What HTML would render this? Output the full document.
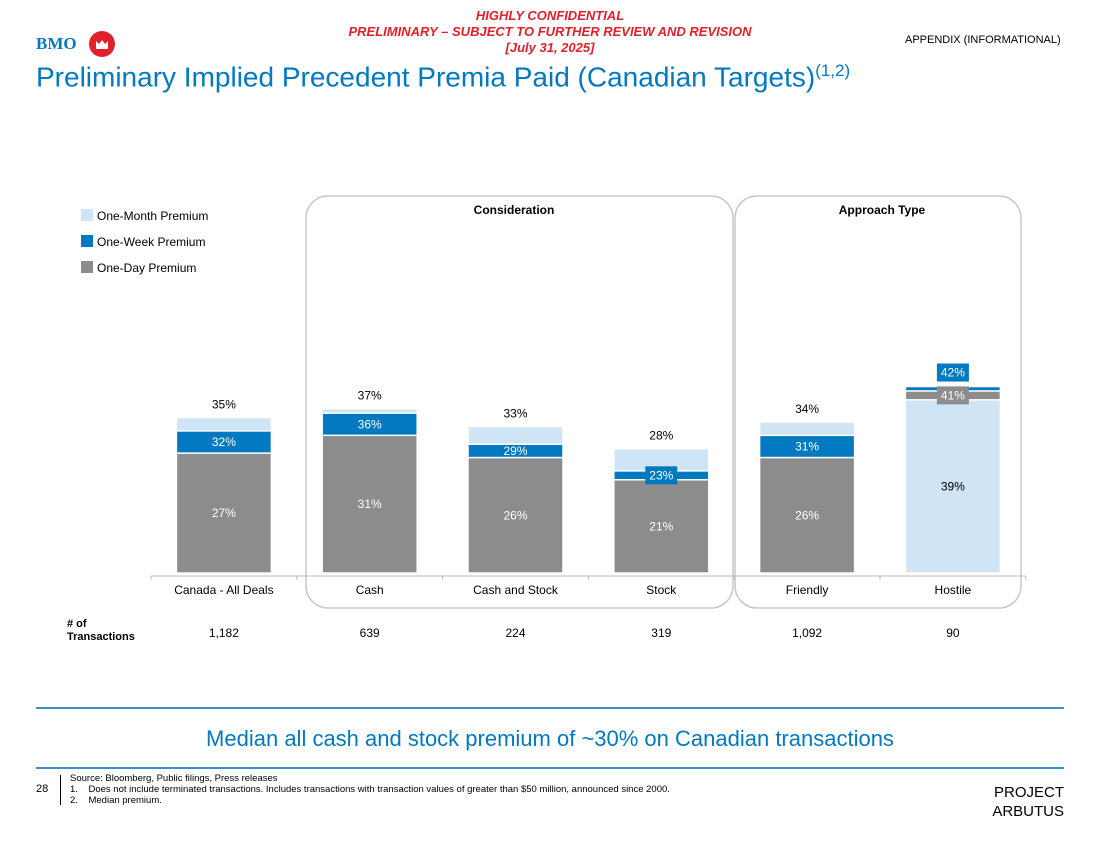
<!DOCTYPE html>
<html><head><meta charset="utf-8">
<style>
body{margin:0;width:1100px;height:849px;background:#fff;font-family:"Liberation Sans",Arial,sans-serif;position:relative;overflow:hidden}
.a{position:absolute;white-space:nowrap}
</style></head>
<body>
<div class="a" style="left:300px;top:8px;width:500px;text-align:center;color:#e0202a;font-weight:bold;font-style:italic;font-size:13px;line-height:16px">HIGHLY CONFIDENTIAL<br>PRELIMINARY – SUBJECT TO FURTHER REVIEW AND REVISION<br>[July 31, 2025]</div>
<div class="a" style="left:36px;top:34px;font-family:'Liberation Serif',serif;font-weight:bold;color:#0079c1;font-size:17px">BMO</div>
<svg class="a" style="left:89px;top:31px" width="26" height="26"><circle cx="13" cy="13" r="13" fill="#e0202a"/><path d="M7 18V10l3 3 3-4 3 4 3-3v8z" fill="#fff"/></svg>
<div class="a" style="left:905px;top:34px;font-size:11px;color:#000">APPENDIX (INFORMATIONAL)</div>
<div class="a" style="left:36px;top:61px;font-size:28px;color:#0079c1">Preliminary Implied Precedent Premia Paid (Canadian Targets)<sup style="font-size:17px">(1,2)</sup></div>

<svg class="a" style="left:0;top:0" width="1100" height="849" id="chart"></svg>

<div class="a" style="left:67px;top:618px;font-size:11px;font-weight:bold;line-height:13px"># of<br>Transactions</div>
<div class="a" style="left:36px;top:707px;width:1028px;height:1.5px;background:#3a8fc8"></div>
<div class="a" style="left:0;top:726px;width:1100px;text-align:center;font-size:22px;color:#0079c1">Median all cash and stock premium of ~30% on Canadian transactions</div>
<div class="a" style="left:36px;top:767px;width:1028px;height:1.5px;background:#3a8fc8"></div>
<div class="a" style="left:36px;top:783px;font-size:11px">28</div>
<div class="a" style="left:60px;top:775px;width:1px;height:30px;background:#000"></div>
<div class="a" style="left:70px;top:773px;font-size:9.5px;line-height:11px">Source: Bloomberg, Public filings, Press releases<br>1.&nbsp;&nbsp;&nbsp;&nbsp;Does not include terminated transactions. Includes transactions with transaction values of greater than $50 million, announced since 2000.<br>2.&nbsp;&nbsp;&nbsp;&nbsp;Median premium.</div>
<div class="a" style="left:964px;top:783px;width:100px;text-align:right;font-size:15px;line-height:19px">PROJECT<br>ARBUTUS</div>

<script>
const categories=["Canada - All Deals","Cash","Cash and Stock","Stock","Friendly","Hostile"];
const monthPremium=[35,37,33,28,34,39];
const weekPremium=[32,36,29,23,31,42];
const dayPremium=[27,31,26,21,26,41];
const transactions=["1,182","639","224","319","1,092","90"];
const seriesNames=["One-Month Premium","One-Week Premium","One-Day Premium"];

const NS="http://www.w3.org/2000/svg";
const svg=document.getElementById('chart');
const colors=["#cfe4f4","#0079c1","#8c8c8c"];
const base=573, pxPer=4.44, x0=151, step=145.8, bw=95;
const y=v=>base-v*pxPer;
const xc=i=>x0+step*(i+0.5);
function mk(t,a,txt){const e=document.createElementNS(NS,t);for(const k in a)e.setAttribute(k,a[k]);if(txt!=null)e.textContent=txt;svg.appendChild(e);return e;}

let g=mk('rect',{x:306,y:196,width:427,height:412,rx:22,fill:'none',stroke:'#c8c8c8','stroke-width':1.5});

g=mk('rect',{x:735,y:196,width:286,height:412,rx:22,fill:'none',stroke:'#c8c8c8','stroke-width':1.5});

g=mk('text',{x:514,y:214,'text-anchor':'middle','font-size':12,'font-weight':'bold'},'Consideration');

g=mk('text',{x:882,y:214,'text-anchor':'middle','font-size':12,'font-weight':'bold'},'Approach Type');


seriesNames.forEach((n,k)=>{
  let r=mk('rect',{x:81,y:209+k*26,width:12,height:12,fill:colors[k]});
  
  let t=mk('text',{x:97,y:220+k*26,'font-size':12},n);
  
});

let ax=mk('line',{x1:x0,y1:576,x2:x0+step*6,y2:576,stroke:'#bbb','stroke-width':1});

for(let i=0;i<=6;i++){let tk=mk('line',{x1:x0+step*i,y1:576,x2:x0+step*i,y2:580,stroke:'#bbb'});}

categories.forEach((c,i)=>{
  const cx=xc(i);
  const vals=[monthPremium[i],weekPremium[i],dayPremium[i]];
  const order=[0,1,2].sort((a,b)=>vals[b]-vals[a]);
  order.forEach(k=>{
    let r=mk('rect',{x:cx-bw/2,y:y(vals[k]),width:bw,height:vals[k]*pxPer,fill:colors[k],stroke:'#fff','stroke-width':1.5});
    
  });
  order.forEach((k,pos)=>{
    const v=vals[k], lbl=v+'%';
    let ty, boxed=false;
    if(pos===2){ty=(y(v)+base)/2+4;}
    else{
      const below=vals[order[pos+1]];
      const band=(v-below)*pxPer;
      if(pos===0){
        if(k===0){ty=y(v)-9;}
        else if(band<10){boxed=true;ty=y(v)-10;}
        else ty=(y(v)+y(below))/2+4;
      } else {
        ty=(y(v)+y(below))/2+4; if(band<10)boxed=true;
      }
    }
    const fill=(pos===0&&k===0)||(pos===2&&k===0)?'#000':'#fff';
    if(boxed){let b=mk('rect',{x:cx-16,y:ty-13,width:32,height:18,fill:colors[k]});}
    let t=mk('text',{x:cx,y:ty,'text-anchor':'middle','font-size':12,fill:fill},lbl);
    
  });
  let t=mk('text',{x:cx,y:594,'text-anchor':'middle','font-size':12},c);
  
  t=mk('text',{x:cx,y:637,'text-anchor':'middle','font-size':12},transactions[i]);
  
});
</script>
</body></html>
